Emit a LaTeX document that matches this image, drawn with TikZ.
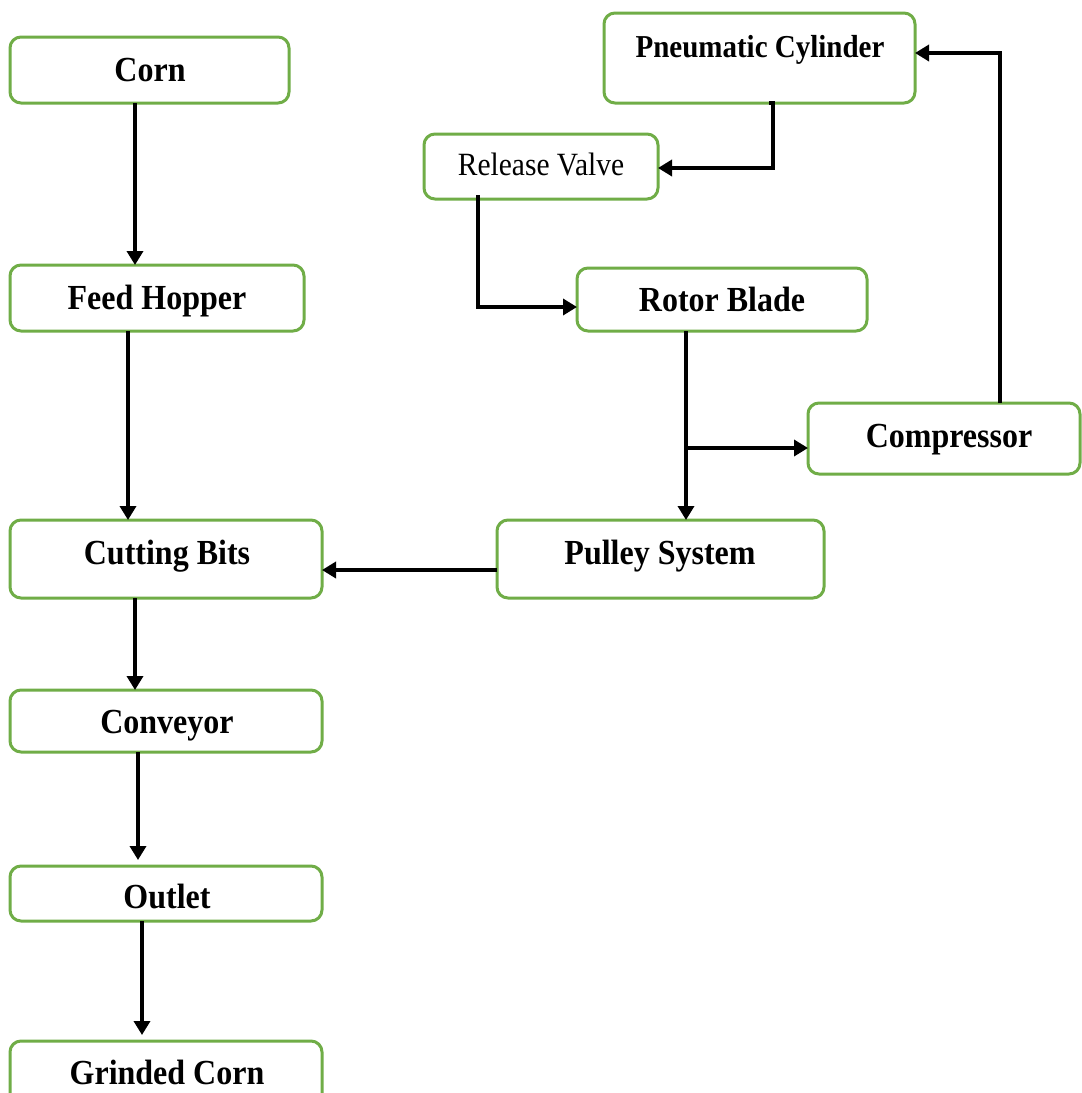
\documentclass[tikz,border=0pt]{standalone}
\usepackage{fontspec}
\setmainfont{Liberation Serif}
\usetikzlibrary{arrows.meta}
\definecolor{grn}{HTML}{70AD47}
\newcommand\vs[1]{\scalebox{1}[1.1]{#1}}
\newcommand\boxat[5]{\node[box, minimum width={(#4-#2)*1pt}, minimum height={(#5-#3)*1pt}] (#1) at ({(#2+#4)/2},{(#3+#5)/2}) {};}
\tikzset{
 box/.style={draw=grn, line width=3pt, rounded corners=11pt, fill=white, inner sep=0pt, outer sep=0pt},
 lbl/.style={font=\fontsize{32}{37}\selectfont\bfseries, anchor=base, inner sep=0pt},
 lbls/.style={font=\fontsize{29}{34}\selectfont\bfseries, anchor=base, inner sep=0pt},
 lblr/.style={font=\fontsize{29.5}{34}\selectfont, anchor=base, inner sep=0pt},
 arr/.style={line width=4pt, -{Triangle[length=14pt,width=16pt]}},
}
\begin{document}
\begin{tikzpicture}[x=1pt,y=-1pt]
\useasboundingbox[fill=white] (0,0) rectangle (1082,1093);
% boxes
\boxat{corn}{10}{37}{289}{103}
\boxat{hopper}{10}{265}{304}{331}
\boxat{cut}{10}{520}{322}{598}
\boxat{conv}{10}{690}{322}{752}
\boxat{outlet}{10}{866}{322}{921}
\boxat{grind}{10}{1041}{322}{1120}
\boxat{pneu}{604}{13}{915}{103}
\boxat{valve}{424}{134}{658}{199}
\boxat{rotor}{577}{268}{867}{331}
\boxat{comp}{808}{403}{1080}{474}
\boxat{pulley}{497}{520}{824}{598}
% labels
\node[lbl] (cornT) at (150,81) {\vs{Corn}};
\node[lbl] (hopperT) at (157,309) {\vs{Feed Hopper}};
\node[lbl] (cutT) at (167,564) {\vs{Cutting Bits}};
\node[lbl] (convT) at (167,733) {\vs{Conveyor}};
\node[lbl] (outletT) at (167,908) {\vs{Outlet}};
\node[lbl] (grindT) at (167,1084) {\vs{Grinded Corn}};
\node[lbls] (pneuT) at (760,57) {\vs{Pneumatic Cylinder}};
\node[lblr] (valveT) at (541,175) {\vs{Release Valve}};
\node[lbl] (rotorT) at (722,311) {\vs{Rotor Blade}};
\node[lbl] (compT) at (949,447) {\vs{Compressor}};
\node[lbl] (pulleyT) at (660,564) {\vs{Pulley System}};
% connectors
\coordinate (c1) at (135,0);
\coordinate (c2) at (128,0);
\coordinate (c4) at (138,0);
\coordinate (c5) at (142,0);
\coordinate (vx) at (773,0);
\coordinate (vn) at (769,0);
\coordinate (vy) at (0,168);
\coordinate (rx) at (478,0);
\coordinate (ry) at (0,307);
\coordinate (bx) at (686,0);
\coordinate (by) at (0,448);
\coordinate (kx) at (1000,0);
\coordinate (ky) at (0,53);
\coordinate (py) at (0,570);
\draw[arr] (corn.south -| c1) -- (hopper.north -| c1);
\draw[arr] (hopper.south -| c2) -- (cut.north -| c2);
\draw[arr] (cut.south -| c1) -- (conv.north -| c1);
\draw[arr] (conv.south -| c4) -- ([yshift=6pt]outlet.north -| c4);
\draw[arr] (outlet.south -| c5) -- ([yshift=6pt]grind.north -| c5);
\draw[arr] (pulley.west |- py) -- (cut.east |- py);
\draw[arr] (rotor.south -| bx) -- (pulley.north -| bx);
\draw[arr] (bx |- by) -- (comp.west |- by);
\draw[arr] (comp.north -| kx) -- (kx |- ky) -- (pneu.east |- ky);
\draw[arr] (pneu.south -| vn) -- (pneu.south -| vx) -- (vx |- vy) -- (valve.east |- vy);
\draw[arr] ([yshift=4pt]valve.south -| rx) -- (rx |- ry) -- (rotor.west |- ry);
\end{tikzpicture}
\end{document}
